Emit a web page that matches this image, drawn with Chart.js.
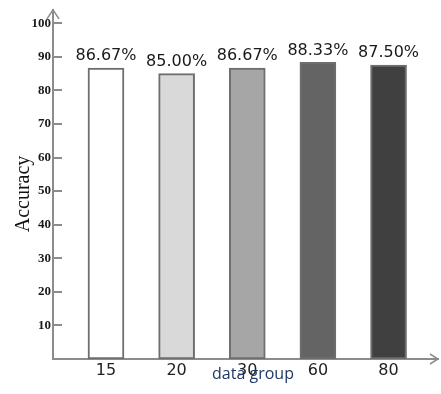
<!DOCTYPE html>
<html>
<head>
<meta charset="utf-8">
<script src="https://cdn.jsdelivr.net/npm/chart.js@4"></script>
<style>
  html, body { margin: 0; padding: 0; background: #fff; }
  #wrap { width: 441px; height: 394px; }
</style>
</head>
<body>
<div id="wrap"><canvas id="accChart" width="441" height="394"></canvas></div>
<script>
  const categories = ['15', '20', '30', '60', '80'];
  const accuracy = [86.67, 85.00, 86.67, 88.33, 87.50];
  const valueLabels = ['86.67%', '85.00%', '86.67%', '88.33%', '87.50%'];
  const barColors = ['#ffffff', '#d9d9d9', '#a6a6a6', '#646464', '#404040'];
  const yTicks = [10, 20, 30, 40, 50, 60, 70, 80, 90, 100];

  const AXIS_COLOR = '#8c8c8c';

  // bars sit at x = 1..5 on a linear scale so the axes can start/end like the original
  var points = accuracy.map(function (v, i) { return { x: i + 1, y: v }; });

  // draws value labels, inward y ticks, arrows and the axis titles
  var decorations = {
    id: 'decorations',
    afterDatasetsDraw: function (chart) {
      var ctx = chart.ctx;
      var area = chart.chartArea;
      var yScale = chart.scales.y;
      var meta = chart.getDatasetMeta(0);

      ctx.save();
      ctx.fillStyle = '#1a1a1a';
      ctx.font = '16px "DejaVu Sans"';
      ctx.textAlign = 'center';
      ctx.textBaseline = 'bottom';
      meta.data.forEach(function (bar, i) {
        ctx.fillText(valueLabels[i], bar.x, bar.y - 4);
      });

      // tick marks point into the plot
      ctx.strokeStyle = AXIS_COLOR;
      ctx.lineWidth = 2;
      yTicks.forEach(function (t) {
        var py = Math.round(yScale.getPixelForValue(t));
        ctx.beginPath();
        ctx.moveTo(area.left, py);
        ctx.lineTo(area.left + 9, py);
        ctx.stroke();
      });

      // arrow heads
      ctx.lineWidth = 1.5;
      ctx.beginPath();
      ctx.moveTo(area.left - 6, area.top + 9);
      ctx.lineTo(area.left, area.top);
      ctx.lineTo(area.left + 6, area.top + 9);
      ctx.stroke();
      ctx.beginPath();
      ctx.moveTo(area.right - 8, area.bottom - 5);
      ctx.lineTo(area.right, area.bottom);
      ctx.lineTo(area.right - 8, area.bottom + 5);
      ctx.stroke();

      // y title
      ctx.fillStyle = '#111';
      ctx.font = '20px "Liberation Serif"';
      ctx.textBaseline = 'middle';
      ctx.translate(24, 194);
      ctx.rotate(-Math.PI / 2);
      ctx.fillText('Accuracy', 0, 0);
      ctx.restore();

      // x title
      ctx.save();
      ctx.fillStyle = '#1f3864';
      ctx.font = '16px "Open Sans"';
      ctx.textAlign = 'center';
      ctx.textBaseline = 'middle';
      ctx.fillText('data group', 253, 374);
      ctx.restore();
    }
  };

  new Chart(document.getElementById('accChart'), {
    type: 'bar',
    data: {
      datasets: [{
        data: points,
        backgroundColor: barColors,
        borderColor: '#6e6e6e',
        borderWidth: 2,
        borderSkipped: false,
        barThickness: 36
      }]
    },
    options: {
      responsive: false,
      animation: false,
      devicePixelRatio: 1,
      layout: { padding: { top: 6, right: 3, left: 0, bottom: 0 } },
      plugins: {
        legend: { display: false },
        tooltip: { enabled: false }
      },
      scales: {
        x: {
          type: 'linear',
          min: 0.25,
          max: 5.7,
          offset: false,
          grid: { display: false, drawTicks: false },
          border: { display: true, color: AXIS_COLOR, width: 2 },
          ticks: {
            autoSkip: false,
            maxRotation: 0,
            padding: 2,
            color: '#222',
            font: { family: 'DejaVu Sans', size: 16 },
            callback: function (v) {
              return Number.isInteger(v) && categories[v - 1] ? categories[v - 1] : '';
            }
          },
          afterBuildTicks: function (scale) {
            scale.ticks = categories.map(function (c, i) { return { value: i + 1 }; });
          },
          afterFit: function (scale) { scale.height = 35; }
        },
        y: {
          min: 0,
          max: 104,
          grid: { display: false, drawTicks: false },
          border: { display: true, color: AXIS_COLOR, width: 2 },
          ticks: {
            autoSkip: false,
            padding: 2,
            color: '#1a1a1a',
            font: { family: 'Liberation Serif', size: 13, weight: 'bold' }
          },
          afterBuildTicks: function (scale) {
            scale.ticks = yTicks.map(function (t) { return { value: t }; });
          },
          afterFit: function (scale) { scale.width = 53; }
        }
      }
    },
    plugins: [decorations]
  });
</script>
</body>
</html>
